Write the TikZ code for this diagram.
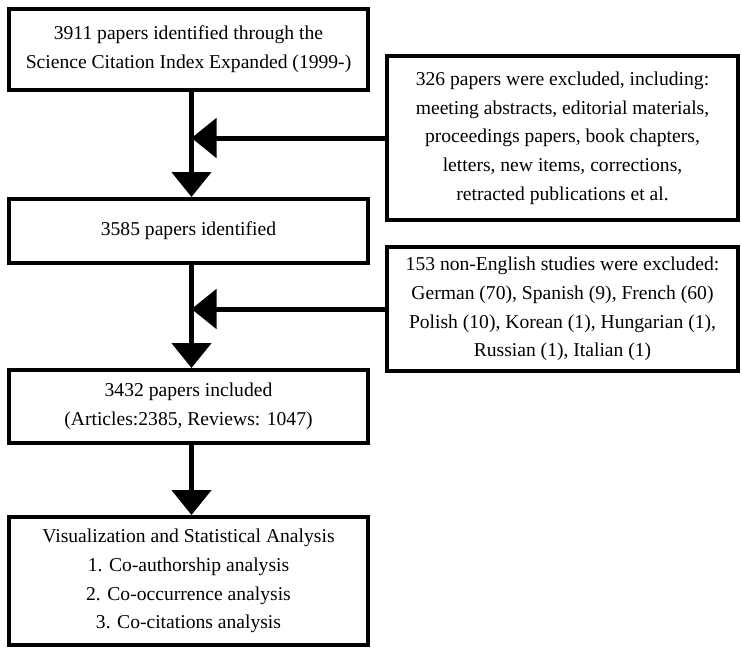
\documentclass[tikz,border=0pt]{standalone}
\usepackage{fontspec}
\setmainfont{Liberation Serif}
\usetikzlibrary{arrows.meta}
\begin{document}
\begin{tikzpicture}[x=1pt,y=-1pt,
  box/.style={draw,line width=4pt,align=center,inner sep=0pt,font=\fontsize{19.6}{28.7}\selectfont},
  arr/.style={line width=5pt,-{Triangle[width=39pt,length=25pt]}}]
\useasboundingbox (0,0) rectangle (742,653);
\node[box,minimum width=359pt,minimum height=81pt] (b1) at (188.5,49.5)
  {3911 papers identified through the\\Science Citation Index Expanded (1999-)};
\node[box,minimum width=359pt,minimum height=64pt] (b2) at (188.5,231)
  {3585 papers identified};
\node[box,minimum width=359pt,minimum height=73pt] (b3) at (188.5,406.5)
  {3432 papers included\\(Articles:2385, Reviews: 1047)};
\node[box,minimum width=359pt,minimum height=128pt] (b4) at (188.5,581)
  {Visualization and Statistical Analysis\\1. Co-authorship analysis\\2. Co-occurrence analysis\\3. Co-citations analysis};
\node[box,minimum width=351pt,minimum height=164pt] (e1) at (562.5,138)
  {326 papers were excluded, including:\\meeting abstracts, editorial materials,\\proceedings papers, book chapters,\\letters, new items, corrections,\\retracted publications et al.};
\node[box,minimum width=351pt,minimum height=124pt] (e2) at (562.5,309)
  {153 non-English studies were excluded:\\German (70), Spanish (9), French (60)\\Polish (10), Korean (1), Hungarian (1),\\Russian (1), Italian (1)};
\draw[arr] ([xshift=3pt]b1.south) -- ([xshift=3pt]b2.north);
\draw[arr] ([xshift=3pt]b2.south) -- ([xshift=3pt]b3.north);
\draw[arr] ([xshift=3pt]b3.south) -- ([xshift=3pt]b4.north);
\draw[arr] (e1.west) -- ([xshift=3pt]e1.west -| b1.south);
\draw[arr] (e2.west) -- ([xshift=3pt]e2.west -| b2.south);
\end{tikzpicture}
\end{document}
